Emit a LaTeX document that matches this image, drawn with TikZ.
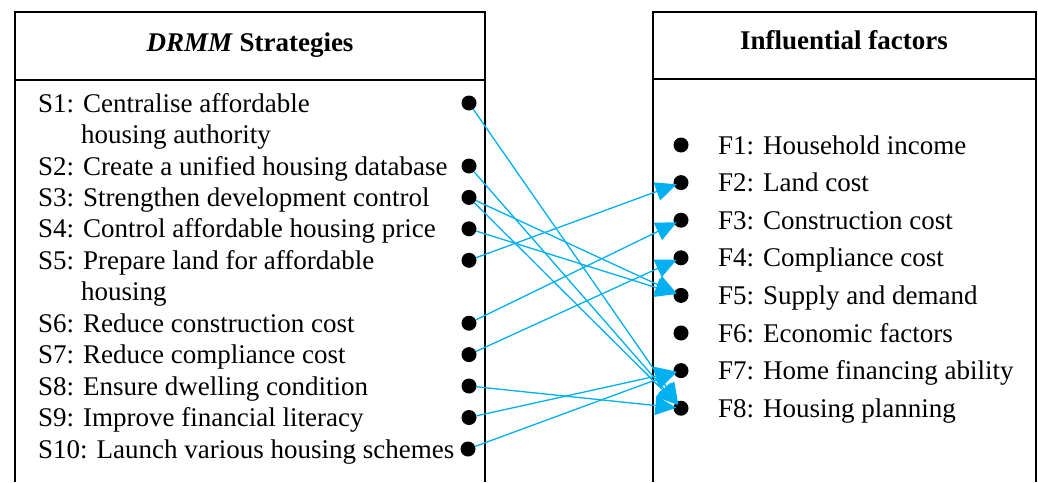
\documentclass[tikz,border=0pt]{standalone}
\usepackage{fontspec}
\setmainfont{Liberation Serif}
\usetikzlibrary{arrows.meta}
\definecolor{arrowcyan}{RGB}{0,176,240}
\begin{document}
\begin{tikzpicture}[x=1pt,y=-1pt,
  txt/.style={anchor=base west, inner sep=0pt, font=\fontsize{27}{31}\selectfont},
  hdr/.style={anchor=base, inner sep=0pt, font=\fontsize{27}{31}\selectfont\bfseries},
  dot/.style={circle, fill=black, inner sep=0pt, minimum size=15pt},
  link/.style={draw=arrowcyan, line width=1.3pt, shorten >=-3pt, -{Triangle[length=21pt,width=19pt,fill=arrowcyan]}},
  frame/.style={line width=1.8pt}]
\useasboundingbox (0,0) rectangle (1038,482);
% frames
\draw[frame] (15,482) -- (15,12) -- (485,12) -- (485,482);
\draw[frame] (15,80) -- (485,80);
\draw[frame] (653,482) -- (653,12) -- (1036,12) -- (1036,482);
\draw[frame] (653,79) -- (1036,79);
% headers
\node[hdr] (hs) at (250,51) {\textit{DRMM} Strategies};
\node[hdr] (hf) at (844,49) {Influential factors};
% strategies
\node[txt] (t1)  at (38,112)   {S1: Centralise affordable};
\node[txt] (t1b) at (81,143.5) {housing authority};
\node[txt] (t2)  at (38,175)   {S2: Create a unified housing database};
\node[txt] (t3)  at (38,206.4) {S3: Strengthen development control};
\node[txt] (t4)  at (38,237.8) {S4: Control affordable housing price};
\node[txt] (t5)  at (38,269.3) {S5: Prepare land for affordable};
\node[txt] (t5b) at (81,300.7) {housing};
\node[txt] (t6)  at (38,332.2) {S6: Reduce construction cost};
\node[txt] (t7)  at (38,363.6) {S7: Reduce compliance cost};
\node[txt] (t8)  at (38,395)   {S8: Ensure dwelling condition};
\node[txt] (t9)  at (38,426.5) {S9: Improve financial literacy};
\node[txt] (t10) at (38,458)   {S10: Launch various housing schemes};
% strategy dots
\node[dot] (s1)  at (469,103)   {};
\node[dot] (s2)  at (469,166)   {};
\node[dot] (s3)  at (469,197.4) {};
\node[dot] (s4)  at (469,228.8) {};
\node[dot] (s5)  at (469,260.3) {};
\node[dot] (s6)  at (469,323.2) {};
\node[dot] (s7)  at (469,354.6) {};
\node[dot] (s8)  at (469,386)   {};
\node[dot] (s9)  at (469,417.5) {};
\node[dot] (s10) at (468,449)   {};
% factors
\node[txt] (u1) at (718,154)   {F1: Household income};
\node[txt] (u2) at (718,191.6) {F2: Land cost};
\node[txt] (u3) at (718,229.2) {F3: Construction cost};
\node[txt] (u4) at (718,266.8) {F4: Compliance cost};
\node[txt] (u5) at (718,304.4) {F5: Supply and demand};
\node[txt] (u6) at (718,342)   {F6: Economic factors};
\node[txt] (u7) at (718,379.6) {F7: Home financing ability};
\node[txt] (u8) at (718,417.2) {F8: Housing planning};
% factor dots
\node[dot] (f1) at (681,145)   {};
\node[dot] (f2) at (681,182.6) {};
\node[dot] (f3) at (681,220.2) {};
\node[dot] (f4) at (681,257.8) {};
\node[dot] (f5) at (681,295.4) {};
\node[dot] (f6) at (681,333)   {};
\node[dot] (f7) at (681,370.6) {};
\node[dot] (f8) at (681,408.2) {};
% links
\draw[link] (s1) -- (f8);
\draw[link] (s2) -- (f8);
\draw[link] (s3) -- (f5);
\draw[link] (s3) -- (f8);
\draw[link] (s4) -- (f5);
\draw[link] (s5) -- (f2);
\draw[link] (s6) -- (f3);
\draw[link] (s7) -- (f4);
\draw[link] (s8) -- (f8);
\draw[link] (s9) -- (f7);
\draw[link] (s10) -- (f7);
\end{tikzpicture}
\end{document}
